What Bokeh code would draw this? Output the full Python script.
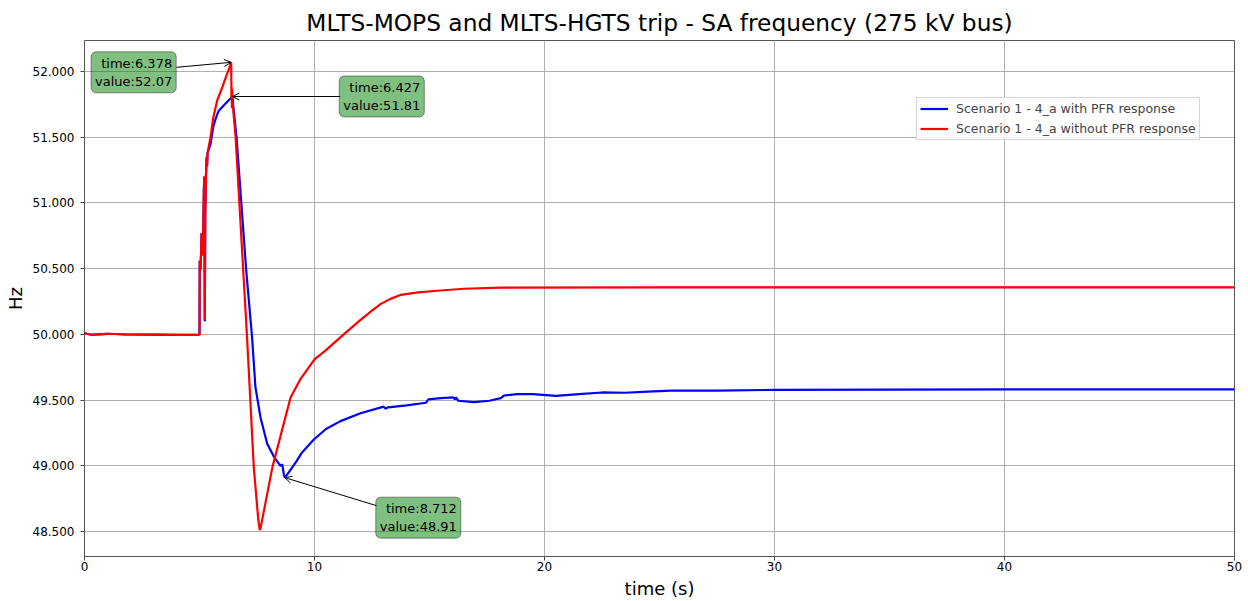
from bokeh.plotting import figure
from bokeh.models import (Range1d, FixedTicker, NumeralTickFormatter, Label, Arrow,
                          OpenHead, Legend, LegendItem)
from bokeh.embed import file_html
from bokeh.resources import INLINE

# ---------------- data ----------------
t_red = [0, 0.1, 0.3, 0.6, 1.0, 1.3, 1.8, 3.0, 4.0, 4.98, 5.0, 5.01, 5.04, 5.07, 5.09, 5.11,
         5.16, 5.19, 5.21, 5.23, 5.25, 5.28, 5.31, 5.33, 5.35, 5.48, 5.6, 5.77, 5.99, 6.15,
         6.3, 6.378, 6.39, 6.40, 6.41, 6.42, 6.43, 6.57, 6.90, 7.07, 7.36, 7.55, 7.62, 7.66,
         8.17, 8.96, 9.39, 10.0, 10.5, 11.27, 12.0, 12.5, 12.87, 13.3, 13.74, 14.5, 15.19,
         16.5, 18.1, 25, 30, 40, 50]
f_red = [50.01, 50.005, 49.997, 50.0, 50.004, 50.003, 49.999, 49.998, 49.997, 49.998, 50.0,
         50.56, 50.49, 50.62, 50.77, 50.60, 50.75, 51.10, 51.20, 50.11, 50.90, 51.20, 51.35,
         51.28, 51.38, 51.50, 51.65, 51.78, 51.88, 51.96, 52.03, 52.07, 51.80, 51.88, 51.72,
         51.86, 51.78, 51.50, 50.49, 49.97, 48.99, 48.60, 48.51, 48.53, 48.99, 49.52, 49.66,
         49.81, 49.88, 50.00, 50.11, 50.18, 50.23, 50.27, 50.30, 50.32, 50.33, 50.347, 50.355,
         50.358, 50.358, 50.358, 50.358]

t_blue = [0, 0.1, 0.3, 0.6, 1.0, 1.3, 1.8, 3.0, 4.0, 4.98, 5.0, 5.01, 5.04, 5.07, 5.09, 5.11,
          5.16, 5.19, 5.21, 5.23, 5.25, 5.28, 5.31, 5.33, 5.35, 5.48, 5.6, 5.7, 5.83, 6.04,
          6.26, 6.38, 6.427, 6.44, 6.45, 6.46, 6.61, 7.03, 7.29, 7.43, 7.65, 7.94, 8.23, 8.52,
          8.6, 8.67, 8.712, 8.88, 9.2, 9.45, 9.97, 10.5, 11.13, 12.0, 13.01, 13.08, 13.2,
          14.0, 14.85, 14.95, 15.5, 16.05, 16.1, 16.15, 16.25, 16.93, 17.6, 18.1, 18.25, 18.8,
          19.5, 20.5, 21.5, 22.5, 23.5, 24.5, 25.5, 27.5, 30, 35, 42, 50]
f_blue = [50.01, 50.005, 49.997, 50.0, 50.004, 50.003, 49.999, 49.998, 49.997, 49.998, 50.0,
          50.56, 50.49, 50.62, 50.77, 50.60, 50.75, 51.10, 51.20, 50.10, 50.90, 51.20, 51.35,
          51.28, 51.38, 51.45, 51.58, 51.64, 51.70, 51.74, 51.78, 51.80, 51.81, 51.76, 51.79,
          51.75, 51.50, 50.49, 49.97, 49.60, 49.37, 49.17, 49.07, 49.00, 49.01, 48.93, 48.91,
          48.95, 49.03, 49.10, 49.20, 49.28, 49.34, 49.40, 49.45, 49.435, 49.445, 49.46, 49.48,
          49.505, 49.515, 49.52, 49.505, 49.52, 49.495, 49.485, 49.495, 49.515, 49.535, 49.545,
          49.545, 49.532, 49.545, 49.558, 49.556, 49.565, 49.572, 49.572, 49.578, 49.58,
          49.582, 49.582]

series_labels = ["Scenario 1 - 4_a with PFR response", "Scenario 1 - 4_a without PFR response"]

ann_t = [6.378, 6.427, 8.712]
ann_f = [52.07, 51.81, 48.91]

x_ticks = [0, 10, 20, 30, 40, 50]
y_ticks = [48.5, 49.0, 49.5, 50.0, 50.5, 51.0, 51.5, 52.0]

# ---------------- styling ----------------
FONT = "DejaVu Sans"
X0, X1 = 0, 50
Y0, Y1 = 48.31, 52.236
FW, FH = 1150, 516
sx = FW / (X1 - X0)
sy = FH / (Y1 - Y0)

p = figure(width=1248, height=601, output_backend="svg", toolbar_location=None,
           x_range=Range1d(X0, X1), y_range=Range1d(Y0, Y1),
           min_border_left=84, min_border_right=14, min_border_top=40, min_border_bottom=45,
           title="MLTS-MOPS and MLTS-HGTS trip - SA frequency (275 kV bus)")

p.title.text_font = FONT
p.title.text_font_size = "23.3px"
p.title.text_font_style = "normal"
p.title.align = "center"
p.title.text_color = "black"
p.title.standoff = 10

p.xaxis.ticker = FixedTicker(ticks=x_ticks)
p.yaxis.ticker = FixedTicker(ticks=y_ticks)
p.yaxis.formatter = NumeralTickFormatter(format="0.000")
p.xaxis.axis_label = "time (s)"
p.yaxis.axis_label = "Hz"
for ax in (p.xaxis, p.yaxis):
    ax.axis_label_text_font = FONT
    ax.axis_label_text_font_size = "18px"
    ax.axis_label_text_font_style = "normal"
    ax.axis_label_text_color = "black"
    ax.major_label_text_font = FONT
    ax.major_label_text_font_size = "12px"
    ax.major_label_text_color = "black"
    ax.axis_line_color = None
    ax.major_tick_line_color = "#444444"
    ax.major_tick_out = 4
    ax.major_tick_in = 0
    ax.minor_tick_line_color = None
p.yaxis.major_label_standoff = 6
p.xaxis.major_label_standoff = 1
p.yaxis.axis_label_standoff = 4
p.xaxis.axis_label_standoff = 4

p.grid.grid_line_color = "#b0b0b0"
p.grid.grid_line_width = 1
p.outline_line_color = "#555555"
p.outline_line_width = 1
p.background_fill_color = "white"
p.border_fill_color = "white"

r_blue = p.line(t_blue, f_blue, line_color="blue", line_width=2.2)
r_red = p.line(t_red, f_red, line_color="red", line_width=2.2)

legend = Legend(items=[LegendItem(label=series_labels[0], renderers=[r_blue]),
                       LegendItem(label=series_labels[1], renderers=[r_red])],
                location=(832, 416))
legend.label_text_font = FONT
legend.label_text_font_size = "12.5px"
legend.label_height = 15
legend.glyph_height = 15
legend.glyph_width = 28
legend.spacing = 5
legend.padding = 3
legend.margin = 0
legend.label_standoff = 8
legend.border_line_color = "#cccccc"
legend.border_line_alpha = 0.8
legend.background_fill_alpha = 0.8
p.add_layout(legend)

# annotation boxes: offsets (screen px) of box right edge / box centre from the point
lab_dx = [-55, 192, 176]
lab_dy = [-10, 0, -40]
# arrow tail offsets (screen px) from the point
arr_dx = [-54.7, 108, 91.6]
arr_dy = [-5, 0, -28]

for t, f, ldx, ldy, adx, ady in zip(ann_t, ann_f, lab_dx, lab_dy, arr_dx, arr_dy):
    p.add_layout(Arrow(end=OpenHead(size=7, line_width=1, line_color="black"),
                       x_start=t + adx / sx, y_start=f + ady / sy, x_end=t, y_end=f,
                       line_color="black", line_width=1))
    p.add_layout(Label(x=t, y=f, x_offset=ldx, y_offset=ldy,
                       text="time:%s\nvalue:%.2f" % (("%.3f" % t), f),
                       text_align="right", text_baseline="middle",
                       text_font=FONT, text_font_size="13px", text_color="black",
                       background_fill_color="green", background_fill_alpha=0.5,
                       border_line_color="black", border_line_alpha=0.4,
                       padding=4, border_radius=5))

open("out.html", "w").write(file_html(p, INLINE))
